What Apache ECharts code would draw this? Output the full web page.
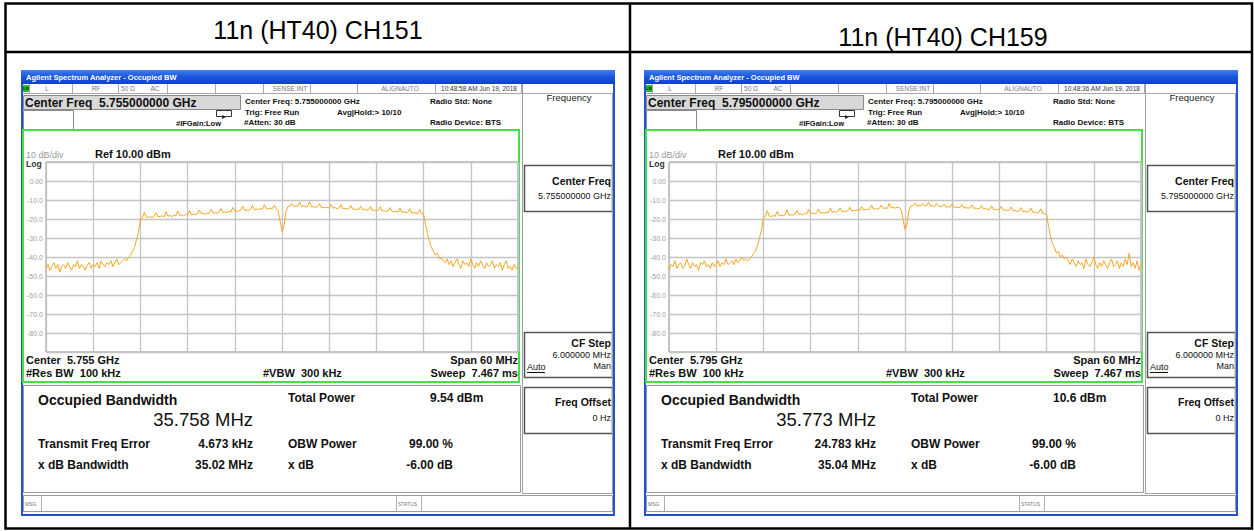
<!DOCTYPE html>
<html><head><meta charset="utf-8">
<script src="https://cdn.jsdelivr.net/npm/echarts@6/dist/echarts.min.js"></script>
<style>html,body{margin:0;padding:0;background:#fff;}#c{width:1254px;height:531px;}</style>
</head><body><div id="c"></div>
<script>
// ---------- DATA ----------
const START_MHZ = -30, STEP_MHZ = 0.25;   // trace frequency offsets (span 60 MHz)
const traceCH151 = [
-46,-44,-47,-45,-43,-46,-44,-48,-45,-44,
-46,-43,-45,-47,-44,-45,-42,-46,-44,-45,
-47,-44,-43,-46,-44,-45,-43,-46,-42,-44,
-45,-43,-44,-42,-45,-43,-41,-44,-43,-42,
-41,
-42,-40,-39,-37,-35,-31,-27,-20,
-19.5,-16.5,-19.2,-19.0,-18.8,-19.3,-18.5,-16.8,-18.9,-18.6,
-18.4,-18.9,-16.2,-18.5,-18.2,-18.7,-18.0,-18.3,-15.8,-18.1,
-17.9,-18.4,-17.6,-17.8,-15.5,-17.9,-17.4,-17.7,-17.2,-15.3,
-17.3,-17.0,-17.5,-16.8,-17.1,-14.9,-16.9,-16.6,-17.0,-16.4,
-14.5,-16.5,-16.2,-16.6,-16.0,-16.3,-13.9,-15.9,-16.1,-15.7,
-15.4,-13.2,-15.6,-15.2,-15.5,-14.9,-12.9,-15.1,-14.8,-15.0,
-14.6,-14.9,-12.5,-14.5,-14.7,-14.3,-14.6,-12.8,-14.2,-15.5,
-21,-26.5,-24,-16,
-13.5,-13.2,-11.8,-13.4,-13.0,-13.3,-11.2,-13.5,-13.1,-13.6,
-13.4,-10.9,-13.7,-13.5,-13.9,-13.6,-12.0,-14.0,-13.8,-14.1,
-13.9,-14.2,-12.3,-14.3,-14.0,-14.5,-14.2,-12.5,-14.6,-14.4,
-14.8,-14.5,-12.9,-14.9,-15.0,-14.7,-15.1,-13.2,-15.2,-14.9,
-15.4,-15.1,-13.4,-15.5,-15.3,-15.7,-15.4,-13.6,-15.8,-15.6,
-16.0,-15.7,-14.0,-16.1,-16.3,-15.9,-16.4,-14.3,-16.5,-16.2,
-16.7,-16.4,-14.6,-16.9,-16.6,-17.0,-17.2,-15.0,-17.3,-17.5,
-23,-28,-32,-35,-37,-39,-38,-41,-40.5,-42,
-43,-41,-44,-42,-45,-43,-41,-44,-46,-42,
-44,-43,-45,-41,-44,-46,-43,-45,-42,-44,
-46,-43,-45,-44,-42,-46,-44,-45,-43,-47,
-44,-42,-46,-45,-47,-44,-46,-45
];
const traceCH159 = [
-47,-44,-45,-42,-46,-44,-43,-46,-45,-41,
-44,-46,-43,-45,-44,-47,-43,-44,-42,-45,
-44,-46,-43,-45,-44,-42,-45,-43,-44,-41,
-44,-43,-42,-44,-41,-43,-42,-40,-42,-41,
-42,
-41,-40,-38,-37,-34,-30,-26,-19.5,
-18.8,-15.6,-18.5,-18.7,-18.2,-18.6,-16.0,-18.3,-18.0,-18.4,
-17.8,-15.2,-18.1,-17.7,-17.9,-17.5,-15.4,-17.6,-17.3,-17.8,
-17.1,-17.4,-15.0,-17.2,-16.9,-17.3,-16.8,-14.7,-17.0,-16.6,
-16.9,-16.4,-16.7,-14.3,-16.5,-16.1,-16.4,-15.9,-14.2,-16.2,
-15.8,-16.0,-15.6,-13.8,-15.9,-15.4,-15.7,-15.2,-15.5,-13.5,
-15.3,-14.9,-15.1,-14.7,-12.8,-14.9,-14.5,-14.8,-14.4,-12.6,
-14.5,-14.2,-14.4,-11.8,-14.1,-13.9,-14.3,-13.8,-14.0,-15.0,
-20,-25.5,-23,-15.5,
-13.0,-12.8,-11.6,-13.1,-12.7,-13.0,-11.9,-13.2,-12.9,-11.1,
-13.3,-13.0,-13.4,-11.8,-13.2,-13.6,-13.3,-12.1,-13.7,-13.5,
-13.8,-11.9,-14.0,-13.7,-14.1,-13.8,-12.4,-14.2,-14.0,-14.3,
-14.1,-12.6,-14.5,-14.2,-14.6,-14.4,-12.9,-14.8,-14.5,-14.9,
-15.0,-13.1,-15.1,-14.8,-15.3,-15.0,-13.4,-15.4,-15.2,-15.6,
-15.3,-13.7,-15.8,-15.5,-16.0,-15.7,-14.0,-16.2,-15.9,-16.4,
-16.1,-14.3,-16.6,-16.3,-16.8,-16.5,-14.6,-17.0,-17.2,-17.8,
-24,-29,-33,-35,-38,-37,-40,-39,-41,-40,
-42,-44,-41,-43,-45,-42,-44,-43,-46,-41,
-44,-45,-43,-40,-44,-46,-43,-45,-42,-44,
-46,-43,-41,-45,-44,-42,-46,-43,-45,-41,
-44,-38,-45,-43,-46,-42,-47,-44
];
const yTickLabels = ['0.00','-10.0','-20.0','-30.0','-40.0','-50.0','-60.0','-70.0','-80.0'];
const headerTitles = ['11n (HT40) CH151', '11n (HT40) CH159'];
const centerFreqs = ['5.755000000', '5.795000000'];
const centerShort = ['5.755', '5.795'];
const timestamps = ['10:48:58 AM Jun 19, 2018', '10:48:36 AM Jun 19, 2018'];
const occupiedBW = ['35.758 MHz', '35.773 MHz'];
const totalPower = ['9.54 dBm', '10.6 dBm'];
const freqError = ['4.673 kHz', '24.783 kHz'];
const xdbBW = ['35.02 MHz', '35.04 MHz'];

// ---------- BUILD ----------
const FONT = '"Liberation Sans", Arial, sans-serif';
function T(x, y, text, size, opt) {
  opt = opt || {};
  return { type: 'text', x: x, y: y, silent: true, z: 10,
    style: { text: text, font: (opt.w || 'normal') + ' ' + size + 'px ' + FONT,
      fill: opt.c || '#111', textAlign: opt.a || 'left', textVerticalAlign: 'middle' } };
}
function R(x, y, w, h, style, z) {
  return { type: 'rect', silent: true, z: z == null ? 1 : z, shape: { x: x, y: y, width: w, height: h }, style: style };
}
function L(x1, y1, x2, y2, color, lw, z) {
  return { type: 'line', silent: true, z: z == null ? 3 : z, shape: { x1: x1, y1: y1, x2: x2, y2: y2 }, style: { stroke: color, lineWidth: lw || 1 } };
}

function screen(k, ox) {
  const d = ox - 21, X = v => v + d;
  const e = [];
  // frame
  e.push(R(X(21), 70, 594, 446, { fill: '#2054d4' }, 0));
  e.push(R(X(21), 70, 594, 14, { fill: new echarts.graphic.LinearGradient(0, 0, 0, 1, [
    { offset: 0, color: '#3f7ff2' }, { offset: 0.5, color: '#1b55dc' }, { offset: 1, color: '#0d43c9' }]) }, 1));
  e.push(T(X(26), 77, 'Agilent Spectrum Analyzer - Occupied BW', 7.5, { w: 'bold', c: '#ffffff' }));
  e.push(R(X(23), 84, 590, 430, { fill: '#ffffff' }, 1));
  // status row
  e.push(L(X(23), 93.5, X(613), 93.5, '#a8a8a8', 1));
  [29, 72, 118, 167, 215, 263, 310, 357, 435, 521].forEach(v => e.push(L(X(v) + 0.5, 84, X(v) + 0.5, 93, '#a8a8a8', 1)));
  e.push(R(X(23), 85, 6, 7, { fill: '#22c322' }, 2));
  e.push(T(X(26), 88.5, 'LXI', 3.5, { w: 'bold', c: '#000', a: 'center' }));
  e.push(T(X(47), 88.5, 'L', 6.5, { c: '#777', a: 'center' }));
  e.push(T(X(96), 88.5, 'RF', 6.5, { c: '#777', a: 'center' }));
  e.push(T(X(128), 88.5, '50 Ω', 6.5, { c: '#777', a: 'center' }));
  e.push(T(X(155), 88.5, 'AC', 6.5, { c: '#777', a: 'center' }));
  e.push(T(X(290), 88.5, 'SENSE:INT', 6.5, { c: '#777', a: 'center' }));
  e.push(T(X(400), 88.5, 'ALIGNAUTO', 6.5, { c: '#777', a: 'center' }));
  e.push(T(X(479), 88.5, timestamps[k], 6.5, { c: '#333', a: 'center' }));
  // center freq box
  e.push(R(X(23) + 0.5, 95.5, 217, 14, { fill: '#d8d8d8', stroke: '#8a8a8a', lineWidth: 1 }, 2));
  e.push(T(X(25), 103, 'Center Freq  ' + centerFreqs[k] + ' GHz', 12, { w: 'bold', c: '#111' }));
  e.push(R(X(23) + 0.5, 110.5, 50, 19, { fill: '#ffffff', stroke: '#8a8a8a', lineWidth: 1 }, 2));
  e.push(R(X(216) + 0.5, 110.5, 15, 6, { r: 3, fill: '#fff', stroke: '#333', lineWidth: 1 }, 2));
  e.push({ type: 'polygon', silent: true, z: 3, shape: { points: [[X(222), 115], [X(226), 117], [X(222), 119]] }, style: { fill: '#222' } });
  e.push(T(X(176), 123, '#IFGain:Low', 7.5, { w: 'bold' }));
  e.push(T(X(245), 101, 'Center Freq: ' + centerFreqs[k] + ' GHz', 8, { w: 'bold' }));
  e.push(T(X(245), 112, 'Trig: Free Run', 8, { w: 'bold' }));
  e.push(T(X(244), 122, '#Atten: 30 dB', 8, { w: 'bold' }));
  e.push(T(X(337), 112, 'Avg|Hold:> 10/10', 8, { w: 'bold' }));
  e.push(T(X(430), 101, 'Radio Std: None', 8, { w: 'bold' }));
  e.push(T(X(430), 122, 'Radio Device: BTS', 8, { w: 'bold' }));
  // green measurement frame
  e.push(R(X(23), 130, 496, 252, { fill: 'none', stroke: '#46e046', lineWidth: 2 }, 4));
  e.push(T(X(26), 155, '10 dB/div', 9, { c: '#999' }));
  e.push(T(X(95), 154, 'Ref 10.00 dBm', 11, { w: 'bold' }));
  e.push(T(X(26), 164, 'Log', 8.5, { w: 'bold', c: '#333' }));
  e.push(T(X(26), 360, 'Center  ' + centerShort[k] + ' GHz', 11, { w: 'bold' }));
  e.push(T(X(26), 373, '#Res BW  100 kHz', 11, { w: 'bold' }));
  e.push(T(X(263), 373, '#VBW  300 kHz', 11, { w: 'bold' }));
  e.push(T(X(518), 360, 'Span 60 MHz', 11, { w: 'bold', a: 'right' }));
  e.push(T(X(518), 373, 'Sweep  7.467 ms', 11, { w: 'bold', a: 'right' }));
  // result panel
  e.push(R(X(23) + 0.5, 385.5, 497, 107, { fill: '#fff', stroke: '#9a9a9a', lineWidth: 1 }, 2));
  e.push(T(X(38), 400, 'Occupied Bandwidth', 14, { w: 'bold' }));
  e.push(T(X(253), 419, occupiedBW[k], 18.5, { a: 'right' }));
  e.push(T(X(288), 398, 'Total Power', 12, { w: 'bold' }));
  e.push(T(X(430), 398, totalPower[k], 12, { w: 'bold' }));
  e.push(T(X(38), 444, 'Transmit Freq Error', 12, { w: 'bold' }));
  e.push(T(X(253), 444, freqError[k], 12, { w: 'bold', a: 'right' }));
  e.push(T(X(288), 444, 'OBW Power', 12, { w: 'bold' }));
  e.push(T(X(453), 444, '99.00 %', 12, { w: 'bold', a: 'right' }));
  e.push(T(X(38), 465, 'x dB Bandwidth', 12, { w: 'bold' }));
  e.push(T(X(253), 465, xdbBW[k], 12, { w: 'bold', a: 'right' }));
  e.push(T(X(288), 465, 'x dB', 12, { w: 'bold' }));
  e.push(T(X(453), 465, '-6.00 dB', 12, { w: 'bold', a: 'right' }));
  // message bar
  e.push(R(X(23) + 0.5, 495.5, 589, 16, { fill: '#fff', stroke: '#9a9a9a', lineWidth: 1 }, 2));
  e.push(L(X(41) + 0.5, 496, X(41) + 0.5, 511, '#b0b0b0'));
  e.push(L(X(396) + 0.5, 496, X(396) + 0.5, 511, '#b0b0b0'));
  e.push(L(X(421) + 0.5, 496, X(421) + 0.5, 511, '#b0b0b0'));
  e.push(T(X(25), 503.5, 'MSG', 5, { c: '#777' }));
  e.push(T(X(398), 503.5, 'STATUS', 5, { c: '#777' }));
  // softkey panel
  e.push(L(X(522) + 0.5, 84, X(522) + 0.5, 493, '#a0a0a0'));
  e.push(L(X(612) + 0.5, 94, X(612) + 0.5, 493, '#a0a0a0'));
  e.push(L(X(522), 493.5, X(613), 493.5, '#a0a0a0'));
  e.push(T(X(569), 97, 'Frequency', 9.5, { a: 'center', c: '#222' }));
  e.push(R(X(524) + 0.5, 165.5, 88, 46, { fill: '#fff', stroke: '#555', lineWidth: 1.5 }, 2));
  e.push(T(X(611), 181, 'Center Freq', 10.5, { w: 'bold', a: 'right' }));
  e.push(T(X(611), 196, centerFreqs[k] + ' GHz', 9, { a: 'right' }));
  e.push(R(X(524) + 0.5, 332.5, 88, 45, { fill: '#fff', stroke: '#555', lineWidth: 1.5 }, 2));
  e.push(T(X(611), 343, 'CF Step', 10.5, { w: 'bold', a: 'right' }));
  e.push(T(X(611), 355, '6.000000 MHz', 9, { a: 'right' }));
  e.push(T(X(527), 367, 'Auto', 9, {}));
  e.push(L(X(527), 372.5, X(545), 372.5, '#111'));
  e.push(T(X(611), 366, 'Man', 9, { a: 'right' }));
  e.push(R(X(524) + 0.5, 387.5, 88, 46, { fill: '#fff', stroke: '#555', lineWidth: 1.5 }, 2));
  e.push(T(X(611), 402, 'Freq Offset', 10.5, { w: 'bold', a: 'right' }));
  e.push(T(X(611), 418, '0 Hz', 9, { a: 'right' }));
  return e;
}

const graphics = [];
// table
graphics.push(R(5.5, 3.5, 1246.5, 525, { fill: '#fff' }, -5));
graphics.push.apply(graphics, screen(0, 21));
graphics.push.apply(graphics, screen(1, 644));
graphics.push(R(5.5, 3.5, 1246.5, 525, { fill: 'none', stroke: '#000', lineWidth: 2.5 }, 20));
graphics.push(L(5.5, 52, 1252, 52, '#000', 2.5, 20));
graphics.push(L(630, 3.5, 630, 528.5, '#000', 2.5, 20));
graphics.push(T(318, 30, headerTitles[0], 25, { a: 'center', c: '#000' }));
graphics.push(T(943, 37, headerTitles[1], 25, { a: 'center', c: '#000' }));

function pairs(arr) { return arr.map((v, i) => [START_MHZ + i * STEP_MHZ, v]); }
const traces = [traceCH151, traceCH159];
const gridLefts = [46, 669];

const option = {
  animation: false,
  backgroundColor: '#ffffff',
  graphic: { elements: graphics },
  grid: gridLefts.map(l => ({ left: l, top: 162, width: 472, height: 190, show: true,
    borderColor: '#8c8c8c', borderWidth: 1, backgroundColor: 'transparent', z: 5 })),
  xAxis: gridLefts.map((l, i) => ({ type: 'value', gridIndex: i, min: -30, max: 30, interval: 6,
    axisLine: { show: false }, axisTick: { show: false }, axisLabel: { show: false },
    splitLine: { show: true, lineStyle: { color: '#c4c4c4', width: 1.3 } }, z: 5 })),
  yAxis: gridLefts.map((l, i) => ({ type: 'value', gridIndex: i, min: -90, max: 10, interval: 10,
    axisLine: { show: false }, axisTick: { show: false },
    axisLabel: { show: true, margin: 3, fontSize: 7, color: '#a0a0a0', fontFamily: FONT,
      showMinLabel: true, showMaxLabel: true,
      formatter: v => (v <= 0 && v >= -80) ? yTickLabels[Math.round(-v / 10)] : '' },
    splitLine: { show: true, lineStyle: { color: '#c4c4c4', width: 1.3 } }, z: 5 })),
  series: traces.map((t, i) => ({ type: 'line', xAxisIndex: i, yAxisIndex: i, data: pairs(t),
    showSymbol: false, symbol: 'none', lineStyle: { color: '#f5a623', width: 1 }, z: 6, silent: true }))
};
const chart = echarts.init(document.getElementById('c'), null, { renderer: 'svg' });
chart.setOption(option);
</script></body></html>
